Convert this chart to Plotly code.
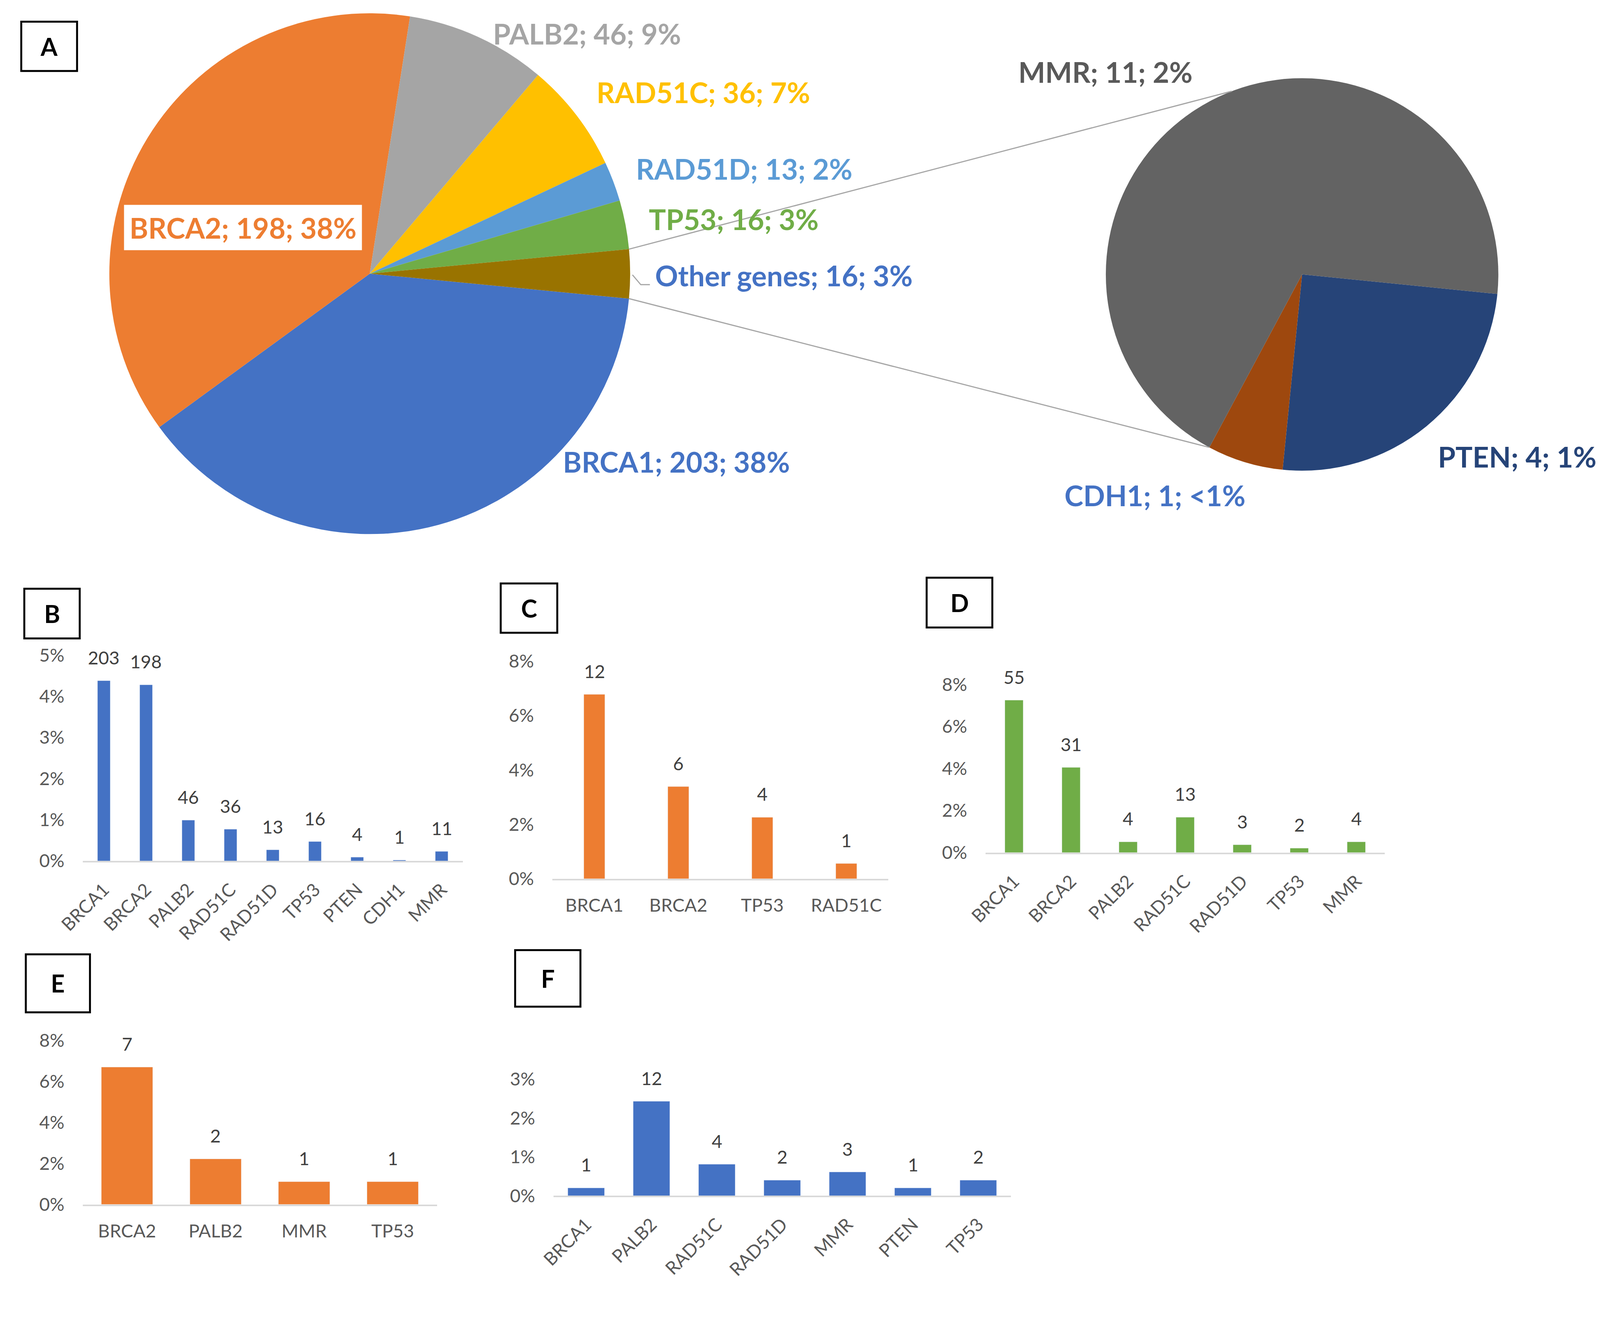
import math
import plotly.graph_objects as go

# panel A - main pie
pie_genes = ['BRCA1', 'BRCA2', 'PALB2', 'RAD51C', 'RAD51D', 'TP53', 'Other genes']
pie_counts = [203, 198, 46, 36, 13, 16, 16]
pie_colors = ['#4472C4', '#ED7D31', '#A5A5A5', '#FFC000', '#5B9BD5', '#70AD47', '#997300']
pie_text_colors = ['#4472C4', '#ED7D31', '#A5A5A5', '#FFC000', '#5B9BD5', '#70AD47', '#4472C4']

# split of "Other genes" (second pie)
other_genes = ['PTEN', 'CDH1', 'MMR']
other_counts = [4, 1, 11]
other_colors = ['#264478', '#9E480E', '#636363']
other_text_colors = ['#264478', '#4472C4', '#595959']

# panels B-F: bar height = percentage, label = number of carriers
b_genes = ['BRCA1', 'BRCA2', 'PALB2', 'RAD51C', 'RAD51D', 'TP53', 'PTEN', 'CDH1', 'MMR']
b_counts = [203, 198, 46, 36, 13, 16, 4, 1, 11]
b_pct = [4.38, 4.28, 0.99, 0.77, 0.27, 0.47, 0.09, 0.02, 0.23]

c_genes = ['BRCA1', 'BRCA2', 'TP53', 'RAD51C']
c_counts = [12, 6, 4, 1]
c_pct = [6.78, 3.39, 2.26, 0.56]

d_genes = ['BRCA1', 'BRCA2', 'PALB2', 'RAD51C', 'RAD51D', 'TP53', 'MMR']
d_counts = [55, 31, 4, 13, 3, 2, 4]
d_pct = [7.25, 4.05, 0.51, 1.68, 0.37, 0.21, 0.51]

e_genes = ['BRCA2', 'PALB2', 'MMR', 'TP53']
e_counts = [7, 2, 1, 1]
e_pct = [6.7, 2.22, 1.11, 1.11]

f_genes = ['BRCA1', 'PALB2', 'RAD51C', 'RAD51D', 'MMR', 'PTEN', 'TP53']
f_counts = [1, 12, 4, 2, 3, 1, 2]
f_pct = [0.2, 2.43, 0.81, 0.4, 0.61, 0.2, 0.4]

FONT = 'Lato'
BLUE, ORANGE, GREEN = '#4472C4', '#ED7D31', '#70AD47'

# layout is measured in pixels of the 4218x3382 picture; the page shows a
# little less than that, so positions and sizes are scaled down a bit
S = 1 / 1.029
PAD = 8
W = round(4218 * S) - PAD
H = round(3382 * S) - PAD


def fx(x):
    return (x * S - PAD) / W


def fy(y):
    return 1 - (y * S - PAD) / H


def sz(v):
    return v * S


total = sum(pie_counts)


def pct_str(n):
    p = 100 * n / total
    return '<1%' if p < 0.5 else '%d%%' % round(p)


fig = go.Figure()

# pies (centre and radius in pixels)
cxA, cyA, rA = 974, 721, 686
cxB, cyB, rB = 3430, 723, 517
rotA, rotB = 95.5, 95.7

fig.add_trace(go.Pie(labels=pie_genes, values=pie_counts, sort=False, direction='clockwise',
                     rotation=rotA, marker=dict(colors=pie_colors, line=dict(width=0)),
                     textinfo='none', showlegend=False,
                     domain=dict(x=[fx(cxA - rA), fx(cxA + rA)], y=[fy(cyA + rA), fy(cyA - rA)])))
fig.add_trace(go.Pie(labels=other_genes, values=other_counts, sort=False, direction='clockwise',
                     rotation=rotB, marker=dict(colors=other_colors, line=dict(width=0)),
                     textinfo='none', showlegend=False,
                     domain=dict(x=[fx(cxB - rB), fx(cxB + rB)], y=[fy(cyB + rB), fy(cyB - rB)])))

annotations = []
shapes = []
label_font = sz(75)

# pie labels (x, y, anchor)
pie_label_xy = [(1782, 1216, 'center'), (640, 599, 'center'), (1547, 89, 'center'), (1853, 243, 'center'),
                (1960, 445, 'center'), (1933, 577, 'center'), (1724, 725, 'left')]
for g, n, c, (x, y, anc) in zip(pie_genes, pie_counts, pie_text_colors, pie_label_xy):
    a = dict(x=fx(x), y=fy(y), xref='paper', yref='paper', showarrow=False,
             xanchor=anc, yanchor='middle',
             text='%s; %d; %s' % (g, n, pct_str(n)),
             font=dict(family=FONT, size=label_font, color=c, weight='bold'))
    if g == 'BRCA2':
        a.update(bgcolor='white', borderpad=sz(14))
    annotations.append(a)

other_label_xy = [(4208, 1203, 'right'), (3042, 1305, 'center'), (2912, 189, 'center')]
for g, n, c, (x, y, anc) in zip(other_genes, other_counts, other_text_colors, other_label_xy):
    annotations.append(dict(x=fx(x), y=fy(y), xref='paper', yref='paper', showarrow=False,
                            xanchor=anc, yanchor='middle',
                            text='%s; %d; %s' % (g, n, pct_str(n)),
                            font=dict(family=FONT, size=label_font, color=c, weight='bold')))

# connector lines between the pies
other_span = 360 * pie_counts[-1] / total
a_lo = math.radians(90 - rotA)
a_hi = math.radians(90 - rotA + other_span)
b_top = math.radians(111)
b_bot = math.radians(90 - rotB - 360 * (other_counts[0] + other_counts[1]) / sum(other_counts))
for aa, bb in [(a_hi, b_top), (a_lo, b_bot)]:
    shapes.append(dict(type='line', xref='paper', yref='paper',
                       x0=fx(cxA + rA * math.cos(aa)), y0=fy(cyA - rA * math.sin(aa)),
                       x1=fx(cxB + rB * math.cos(bb)), y1=fy(cyB - rB * math.sin(bb)),
                       line=dict(color='#A6A6A6', width=3)))
# small leader for "Other genes"
shapes.append(dict(type='path', xref='paper', yref='paper',
                   path='M %f %f L %f %f L %f %f' % (fx(1666), fy(724), fx(1688), fy(750), fx(1712), fy(750)),
                   line=dict(color='#A6A6A6', width=3)))

# bar panels: genes, pct, counts, colour, x-domain px, (y of 0%, y of top tick) px, top, dtick, angle, bar width
panels = [
    (b_genes, b_pct, b_counts, BLUE, (218, 1219), (2268, 1726), 5, 1, -45, 0.3),
    (c_genes, c_pct, c_counts, ORANGE, (1455, 2340), (2315, 1742), 8, 2, 0, 0.25),
    (d_genes, d_pct, d_counts, GREEN, (2596, 3648), (2246, 1803), 8, 2, -45, 0.32),
    (e_genes, e_pct, e_counts, ORANGE, (218, 1151), (3173, 2741), 8, 2, 0, 0.58),
    (f_genes, f_pct, f_counts, BLUE, (1458, 2663), (3150, 2843), 3, 1, -45, 0.56),
]

tick_font = dict(family=FONT, size=sz(48), color='#595959')
for i, (genes, pct, counts, color, (x0, x1), (y0, y1), top, dt, ang, bw) in enumerate(panels):
    k = '' if i == 0 else str(i + 1)
    fig.add_trace(go.Bar(x=genes, y=pct, marker_color=color, width=bw, showlegend=False,
                         xaxis='x' + k, yaxis='y' + k))
    yticks = list(range(0, top + 1, dt))
    fig.layout['xaxis' + k] = dict(domain=[fx(x0), fx(x1)], anchor='y' + k, type='category',
                                   range=[-0.5, len(genes) - 0.5], showline=True, linecolor='#D9D9D9',
                                   linewidth=4, showgrid=False, zeroline=False, ticks='', automargin=False,
                                   tickangle=ang, tickfont=tick_font, ticklabelstandoff=24)
    fig.layout['yaxis' + k] = dict(domain=[fy(y0), fy(y1)], anchor='x' + k, range=[0, top],
                                   tickmode='array', tickvals=yticks,
                                   ticktext=['%d%%' % t for t in yticks], automargin=False,
                                   showgrid=False, zeroline=False, showline=False, ticks='',
                                   tickfont=tick_font, ticklabelstandoff=46)
    for g, p, n in zip(genes, pct, counts):
        annotations.append(dict(x=g, y=p, xref='x' + k, yref='y' + k, text=str(n), showarrow=False,
                                xanchor='center', yanchor='bottom', yshift=30,
                                font=dict(family=FONT, size=sz(48), color='#404040')))

# panel letters in boxes
letter_boxes = [('A', (56, 57, 203, 187)), ('B', (64, 1551, 210, 1682)), ('C', (1319, 1537, 1468, 1667)),
                ('D', (2441, 1522, 2614, 1653)), ('E', (68, 2514, 237, 2667)), ('F', (1357, 2503, 1529, 2652))]
for letter, (bx0, by0, bx1, by1) in letter_boxes:
    shapes.append(dict(type='rect', xref='paper', yref='paper', x0=fx(bx0), y0=fy(by0), x1=fx(bx1), y1=fy(by1),
                       line=dict(color='black', width=5), fillcolor='white'))
    annotations.append(dict(x=fx((bx0 + bx1) / 2), y=fy((by0 + by1) / 2), xref='paper', yref='paper',
                            text=letter, showarrow=False, xanchor='center', yanchor='middle',
                            font=dict(family=FONT, size=sz(64), color='black', weight='bold')))

fig.update_layout(width=W, height=H, margin=dict(l=0, r=0, t=0, b=0, autoexpand=False),
                  paper_bgcolor='white', plot_bgcolor='white',
                  annotations=annotations, shapes=shapes)

fig.write_html("out.html")
